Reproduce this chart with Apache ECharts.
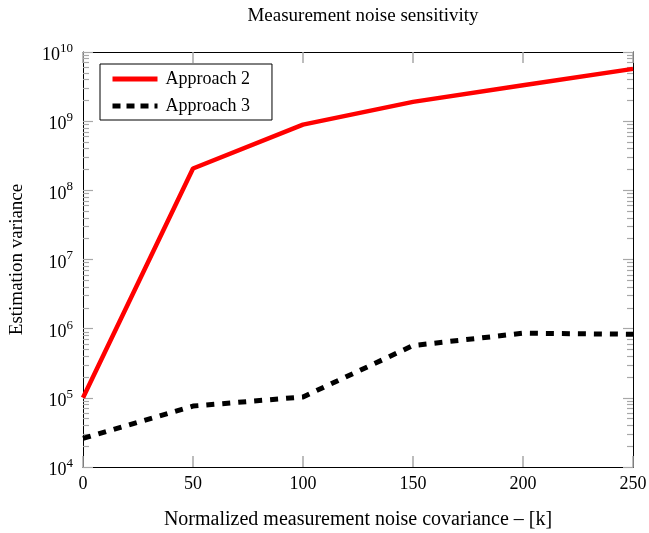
<!DOCTYPE html>
<html><head><meta charset="utf-8">
<script src="https://cdn.jsdelivr.net/npm/echarts@6/dist/echarts.min.js"></script>
<style>html,body{margin:0;padding:0;background:#fff}#c{width:649px;height:533px}</style>
</head><body><div id="c"></div>
<script>
const xValues = [0, 50, 100, 150, 200, 250];
const approach2 = [1.0e5, 2.07e8, 8.9e8, 1.9e9, 3.3e9, 5.7e9];
const approach3 = [2.6e4, 7.6e4, 1.03e5, 5.7e5, 8.6e5, 8.3e5];
const xTicks = [0, 50, 100, 150, 200, 250];
const yMajor = [1e4, 1e5, 1e6, 1e7, 1e8, 1e9, 1e10];
const yMinor = [];
for (let e = 4; e < 10; e++) for (let m = 2; m <= 9; m++) yMinor.push(m * Math.pow(10, e));

const FONT = 'Liberation Serif';
const tickGray = '#a8a8a8';
const chart = echarts.init(document.getElementById('c'));
const logLabel = v => '{b|10}{s|' + Math.round(Math.log10(v)) + '}';
const yBase = {
  type: 'log', min: 1e4, max: 1e10, logBase: 10,
  splitLine: { show: false }, minorTick: { show: false }
};
chart.setOption({
  animation: false,
  title: { text: 'Measurement noise sensitivity', left: 358, textAlign: 'center', top: 2,
    textStyle: { fontFamily: FONT, fontSize: 19, fontWeight: 'normal', color: '#000' } },
  grid: { left: 83, right: 16, top: 52, bottom: 66, containLabel: false, outerBoundsMode: 'none' },
  legend: {
    left: 100, top: 64, orient: 'vertical', itemWidth: 45, itemHeight: 14, itemGap: 9,
    borderColor: '#000', borderWidth: 1, borderRadius: 0, padding: [6, 22, 5, 10],
    textStyle: { fontFamily: FONT, fontSize: 18, color: '#000', padding: [0, 0, 0, 3] },
    data: [
      { name: 'Approach 2', itemStyle: { opacity: 0 }, lineStyle: { width: 5, color: '#ff0000' } },
      { name: 'Approach 3', itemStyle: { opacity: 0 }, lineStyle: { width: 5, color: '#000', type: [8, 6] } }
    ]
  },
  xAxis: [
    { type: 'value', min: 0, max: 250, interval: 50, position: 'bottom',
      name: 'Normalized measurement noise covariance – [k]', nameLocation: 'middle', nameGap: 43,
      nameTextStyle: { fontFamily: FONT, fontSize: 20, color: '#000' },
      axisLine: { lineStyle: { color: '#000', width: 1 } },
      axisTick: { inside: true, length: 11, lineStyle: { color: tickGray, width: 1.5 } },
      axisLabel: { fontFamily: FONT, fontSize: 18, color: '#000', margin: 8 },
      splitLine: { show: false } },
    { type: 'value', min: 0, max: 250, interval: 50, position: 'top',
      axisLine: { show: true, lineStyle: { color: '#000', width: 1 } },
      axisTick: { inside: true, length: 11, lineStyle: { color: tickGray, width: 1.5 } },
      axisLabel: { show: false }, splitLine: { show: false } }
  ],
  yAxis: [
    Object.assign({}, yBase, { position: 'left',
      name: 'Estimation variance', nameLocation: 'middle', nameGap: 56,
      nameTextStyle: { fontFamily: FONT, fontSize: 19, color: '#000' },
      axisLine: { show: true, lineStyle: { color: '#000', width: 1 } },
      axisTick: { inside: true, length: 10, lineStyle: { color: tickGray, width: 1.2 } },
      axisLabel: { formatter: logLabel, margin: 10, color: '#000',
        rich: { b: { fontFamily: FONT, fontSize: 18, color: '#000', padding: [7, 0, 0, 0] },
                s: { fontFamily: FONT, fontSize: 13, color: '#000', padding: [0, 0, 7, 0] } } } }),
    Object.assign({}, yBase, { position: 'left',
      axisLine: { show: false },
      axisTick: { inside: true, length: 6, customValues: yMinor, lineStyle: { color: tickGray, width: 1.2 } },
      axisLabel: { show: false } }),
    Object.assign({}, yBase, { position: 'right',
      axisLine: { show: true, lineStyle: { color: '#000', width: 1 } },
      axisTick: { inside: true, length: 10, lineStyle: { color: tickGray, width: 1.2 } },
      axisLabel: { show: false } }),
    Object.assign({}, yBase, { position: 'right',
      axisLine: { show: false },
      axisTick: { inside: true, length: 6, customValues: yMinor, lineStyle: { color: tickGray, width: 1.2 } },
      axisLabel: { show: false } })
  ],
  series: [
    { name: 'Approach 2', type: 'line', symbol: 'none', xAxisIndex: 0, yAxisIndex: 0,
      data: xValues.map((x, i) => [x, approach2[i]]),
      lineStyle: { color: '#ff0000', width: 4.5 }, itemStyle: { color: '#ff0000' } },
    { name: 'Approach 3', type: 'line', symbol: 'none', xAxisIndex: 0, yAxisIndex: 0,
      data: xValues.map((x, i) => [x, approach3[i]]),
      lineStyle: { color: '#000', width: 5, type: [8, 8] }, itemStyle: { color: '#000' } }
  ]
});
</script></body></html>
